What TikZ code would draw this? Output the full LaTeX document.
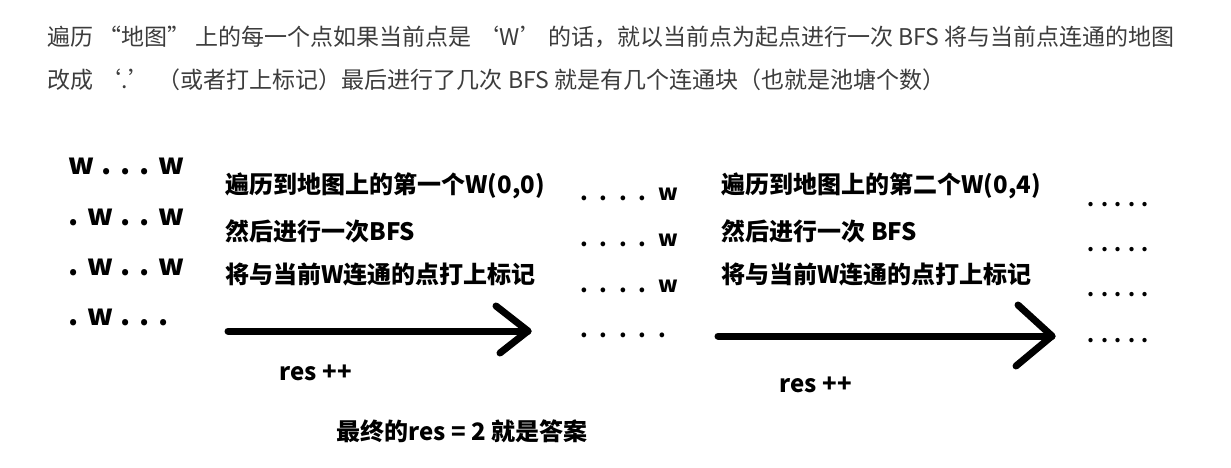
\documentclass[tikz,border=0pt]{standalone}
\usepackage{fontspec}
\setmainfont{Noto Sans CJK SC}
\usetikzlibrary{arrows.meta}
\definecolor{hdrgray}{RGB}{60,60,60}

\begin{document}
\begin{tikzpicture}[x=1pt,y=-1pt,line width=7pt,line cap=round,line join=round,
  hdr/.style={anchor=base west,inner sep=0pt,text=hdrgray,font=\fontsize{23}{23}\selectfont},
  note/.style={anchor=base west,inner sep=0pt,font=\bfseries\fontsize{24}{24}\selectfont},
  gridA/.style={anchor=base west,inner sep=0pt,font=\bfseries\fontsize{29}{29}\selectfont},
  gridB/.style={anchor=base west,inner sep=0pt,font={\bfseries\fontsize{22}{22}\selectfont\spaceskip 10pt\relax}},
  gridC/.style={anchor=base west,inner sep=0pt,font={\bfseries\fontsize{20}{20}\selectfont\spaceskip 5pt\relax}}]
\useasboundingbox (0,0) rectangle (1231,468);
% ---------- header ----------
\node[hdr] (hdr1) at (44,46) {遍历 “地图” 上的每一个点如果当前点是 ‘W’ 的话，就以当前点为起点进行一次 BFS 将与当前点连通的地图};
\node[hdr] (hdr2) at (44,89) {改成 ‘.’ （或者打上标记）最后进行了几次 BFS 就是有几个连通块（也就是池塘个数）};
% ---------- first map ----------
\node[gridA] (mapA1) at (65,175) {w . . . w};
\node[gridA] (mapA2) at (65,225) {. w . . w};
\node[gridA] (mapA3) at (65,275) {. w . . w};
\node[gridA] (mapA4) at (65,325) {. w . . .};
% ---------- first step ----------
\node[note] (stepA1) at (222,193) {遍历到地图上的第一个W(0,0)};
\node[note] (stepA2) at (222,240) {然后进行一次BFS};
\node[note] (stepA3) at (222,283) {将与当前W连通的点打上标记};
\coordinate (arrA-s) at (228,331);
\coordinate (arrA-e) at (528,331);
\draw (arrA-s) -- (arrA-e);
\draw (496,306) -- (arrA-e) -- (500,353);
\node[note] (resA) at (276,380) {res ++};
% ---------- second map ----------
\node[gridB] (mapB1) at (577,200) {. . . . w};
\node[gridB] (mapB2) at (577,246) {. . . . w};
\node[gridB] (mapB3) at (577,292) {. . . . w};
\node[gridB] (mapB4) at (577,337) {. . . . .};
% ---------- second step ----------
\node[note] (stepB1) at (718,193) {遍历到地图上的第二个W(0,4)};
\node[note] (stepB2) at (718,240) {然后进行一次 BFS};
\node[note] (stepB3) at (718,283) {将与当前W连通的点打上标记};
\coordinate (arrB-s) at (718,336);
\coordinate (arrB-e) at (1052,336);
\draw (arrB-s) -- (arrB-e);
\draw (1018,305) -- (arrB-e) -- (1016,366);
\node[note] (resB) at (776,392) {res ++};
% ---------- third map ----------
\node[gridC] (mapC1) at (1084,206) {. . . . .};
\node[gridC] (mapC2) at (1084,251) {. . . . .};
\node[gridC] (mapC3) at (1084,296) {. . . . .};
\node[gridC] (mapC4) at (1084,342) {. . . . .};
% ---------- result ----------
\node[note] (final) at (333,440) {最终的res = 2 就是答案};
\end{tikzpicture}
\end{document}
